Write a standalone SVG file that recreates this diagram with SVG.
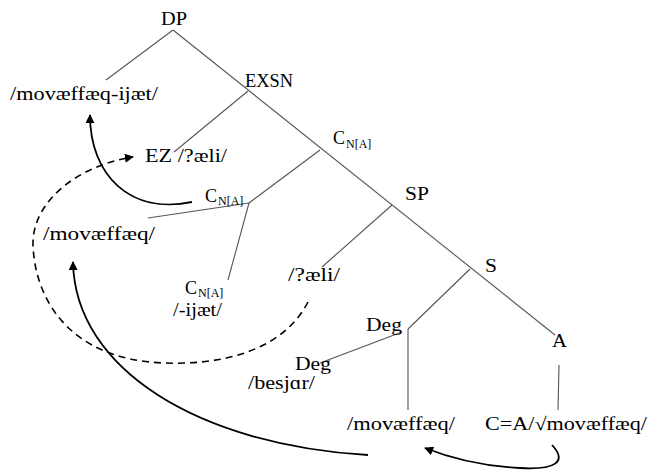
<svg xmlns="http://www.w3.org/2000/svg" width="649" height="470" viewBox="0 0 649 470">
<defs>
<style>
.e{stroke:#555;stroke-width:1.1;fill:none}
.a{stroke:#000;stroke-width:1.8;fill:none}
.d{stroke:#000;stroke-width:1.6;fill:none;stroke-dasharray:7,5}
</style>
<marker id="ah" viewBox="0 0 10 10" refX="9" refY="5" markerWidth="9" markerHeight="9" markerUnits="userSpaceOnUse" orient="auto">
<path d="M0,0 L10,5 L0,10 z" fill="#000"/>
</marker>
</defs>
<rect width="649" height="470" fill="#fff"/>
<g id="connectors">
<path class="e" d="M173,30 L106,80"/>
<path class="e" d="M173,30 L555,335"/>
<path class="e" d="M248,91 L174,152"/>
<path class="e" d="M320,150 L249,203"/>
<path class="e" d="M249,203 L148,218"/>
<path class="e" d="M249,203 L228,280"/>
<path class="e" d="M392,205 L322,267"/>
<path class="e" d="M470,269 L408,329"/>
<path class="e" d="M408,329 L408,410"/>
<path class="e" d="M402,332 L320,363"/>
<path class="e" d="M559,365 L558,410"/>
<path class="a" d="M192,202 C130,215 90,175 90,115" marker-end="url(#ah)"/>
<path class="d" d="M308,302 C282,352 220,365 165,363 C70,360 35,300 33,245 C32,200 80,165 133,157" marker-end="url(#ah)"/>
<path class="a" d="M368,455 C200,445 75,370 73,262" marker-end="url(#ah)"/>
<path class="a" d="M552,445 C568,462 555,470 520,468 C480,466 450,458 425,448" marker-end="url(#ah)"/>
</g>
<g font-family="Liberation Serif, Times New Roman, serif" font-size="18" fill="#000">
<g id="DP"><text x="161" y="25" textLength="26" lengthAdjust="spacingAndGlyphs">DP</text></g>
<g id="EXSN"><text x="245" y="87" textLength="48" lengthAdjust="spacingAndGlyphs">EXSN</text></g>
<g id="DP-left"><text x="10" y="100" textLength="148" lengthAdjust="spacingAndGlyphs">/movæffæq-ijæt/</text></g>
<g id="EZ"><text x="145" y="162" textLength="82" lengthAdjust="spacingAndGlyphs">EZ /?æli/</text></g>
<g id="C1"><text x="333" y="144">C<tspan font-size="12" dy="4" x="346">N[A]</tspan></text></g>
<g id="C2"><text x="205" y="202">C<tspan font-size="12" dy="3" x="218">N[A]</tspan></text></g>
<g id="mov-left"><text x="43" y="240" textLength="112" lengthAdjust="spacingAndGlyphs">/movæffæq/</text></g>
<g id="C3"><text x="185" y="294">C<tspan font-size="12" dy="3" x="198">N[A]</tspan></text></g>
<g id="ijaet"><text x="173" y="316" textLength="49" lengthAdjust="spacingAndGlyphs">/-ijæt/</text></g>
<g id="SP"><text x="405" y="200" textLength="24" lengthAdjust="spacingAndGlyphs">SP</text></g>
<g id="aeli"><text x="288" y="281" textLength="52" lengthAdjust="spacingAndGlyphs">/?æli/</text></g>
<g id="S"><text x="485" y="272" textLength="12" lengthAdjust="spacingAndGlyphs">S</text></g>
<g id="Deg1"><text x="366" y="331" textLength="36" lengthAdjust="spacingAndGlyphs">Deg</text></g>
<g id="Deg2"><text x="295" y="370" textLength="36" lengthAdjust="spacingAndGlyphs">Deg</text></g>
<g id="besjar"><text x="248" y="389" textLength="67" lengthAdjust="spacingAndGlyphs">/besjɑr/</text></g>
<g id="A"><text x="552" y="347" textLength="15" lengthAdjust="spacingAndGlyphs">A</text></g>
<g id="mov-bottom"><text x="347" y="430" textLength="108" lengthAdjust="spacingAndGlyphs">/movæffæq/</text></g>
<g id="root"><text x="485" y="430" textLength="162" lengthAdjust="spacingAndGlyphs">C=A/√movæffæq/</text></g>
</g>
</svg>
